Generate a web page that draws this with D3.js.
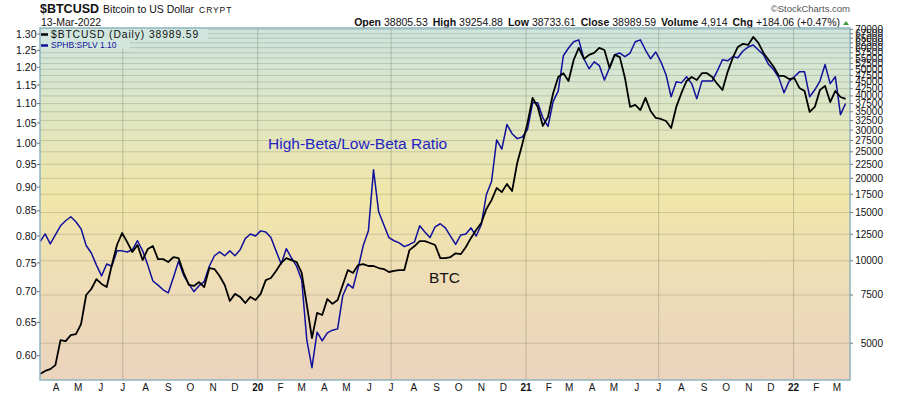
<!DOCTYPE html>
<html>
<head>
<meta charset="utf-8">
<script src="https://cdn.jsdelivr.net/npm/d3@7/dist/d3.min.js"></script>
<style>
  body { margin: 0; background: #fff; }
  text { font-family: "Liberation Sans", Arial, sans-serif; fill: #111; }
</style>
</head>
<body>
<div id="chart"></div>
<script>
// weekly readings, first one on 10-Mar-2019, last one on 13-Mar-2022
var startDate = new Date(2019, 2, 10);

var btcValues = [
  3860, 3960, 4020, 4160, 5130, 5090, 5350, 5400, 5870, 7500,
  7890, 8570, 8230, 8020, 9650, 11420, 12630, 11700, 10760, 11420,
  10060, 11040, 11320, 10140, 10140, 9900, 10320, 10230, 9030, 8160,
  8090, 8360, 8020, 9410, 9330, 8800, 8160, 7130, 7570, 7380,
  7010, 7380, 7190, 7570, 8500, 8650, 9180, 9820, 10230, 10060,
  9900, 9030, 6900, 5220, 6450, 6340, 7250, 6960, 7190, 8160,
  9250, 9030, 9650, 9730, 9570, 9570, 9410, 9330, 9100, 9180,
  9250, 9250, 10940, 11320, 11800, 11800, 11610, 11420, 10230, 10230,
  10320, 10650, 10570, 11230, 12120, 12950, 13740, 15450, 16660, 18440,
  17810, 19070, 17970, 22760, 26710, 31810, 39320, 36460, 31080, 33520,
  40920, 46900, 48420, 45350, 54090, 59870, 54560, 56460, 57420, 59870,
  58840, 50600, 56460, 55420, 46520, 36460, 37080, 35520, 39320, 35230,
  33230, 32950, 32400, 30550, 36460, 40920, 45350, 46900, 45720, 48420,
  48420, 46900, 44240, 42030, 48860, 55040, 60390, 61940, 61420, 65680,
  62450, 57420, 54090, 51040, 47320, 47320, 46090, 46460, 42770, 41690,
  34950, 36460, 42030, 43510, 37990, 41690, 39640, 38989.59
];

// SPHB:SPLV ratio
var ratioValues = [
  0.789, 0.804, 0.785, 0.802, 0.820, 0.830, 0.838, 0.828, 0.814, 0.782,
  0.768, 0.746, 0.727, 0.748, 0.744, 0.772, 0.772, 0.770, 0.774, 0.791,
  0.772, 0.746, 0.718, 0.711, 0.703, 0.698, 0.724, 0.753, 0.728, 0.713,
  0.700, 0.710, 0.717, 0.744, 0.763, 0.770, 0.763, 0.772, 0.763, 0.774,
  0.795, 0.804, 0.800, 0.810, 0.808, 0.797, 0.772, 0.748, 0.776, 0.759,
  0.744, 0.720, 0.623, 0.583, 0.635, 0.622, 0.634, 0.638, 0.640, 0.693,
  0.713, 0.706, 0.741, 0.782, 0.810, 0.938, 0.848, 0.822, 0.797, 0.791,
  0.787, 0.780, 0.784, 0.789, 0.820, 0.808, 0.797, 0.818, 0.824, 0.816,
  0.800, 0.784, 0.802, 0.804, 0.816, 0.800, 0.822, 0.884, 0.912, 1.008,
  0.986, 1.046, 1.023, 1.011, 1.015, 1.033, 1.102, 1.102, 1.063, 1.041,
  1.105, 1.134, 1.234, 1.257, 1.276, 1.282, 1.225, 1.196, 1.216, 1.205,
  1.164, 1.199, 1.237, 1.242, 1.231, 1.242, 1.276, 1.282, 1.251, 1.225,
  1.245, 1.216, 1.179, 1.118, 1.159, 1.156, 1.173, 1.154, 1.113, 1.161,
  1.161, 1.161, 1.190, 1.222, 1.219, 1.231, 1.228, 1.248, 1.260, 1.266,
  1.251, 1.237, 1.208, 1.193, 1.170, 1.129, 1.161, 1.173, 1.187, 1.187,
  1.118, 1.137, 1.161, 1.208, 1.154, 1.173, 1.071, 1.100
];

var leftTicks = [0.60, 0.65, 0.70, 0.75, 0.80, 0.85, 0.90, 0.95, 1.00, 1.05, 1.10, 1.15, 1.20, 1.25, 1.30];
var rightTicks = [5000, 7500, 10000, 12500, 15000, 17500, 20000, 22500, 25000, 27500, 30000,
  32500, 35000, 37500, 40000, 42500, 45000, 47500, 50000, 52500, 55000, 57500, 60000,
  62500, 65000, 67500, 70000];
var monthLetters = ["J", "F", "M", "A", "M", "J", "J", "A", "S", "O", "N", "D"];

var quoteLabels = ["Open", "High", "Low", "Close", "Volume", "Chg"];
var quoteValues = ["38805.53", "39254.88", "38733.61", "38989.59", "4,914", "+184.06 (+0.47%)"];

var btcColor = "#000000",
    ratioColor = "#10109c";

// build rows
var btcData = btcValues.map(function(v, i) { return {date: d3.timeDay.offset(startDate, i * 7), value: v}; });
var ratioData = ratioValues.map(function(v, i) { return {date: d3.timeDay.offset(startDate, i * 7), value: v}; });

var margin = {top: 28, right: 50, bottom: 16, left: 40},
    width = 900 - margin.left - margin.right,
    height = 396 - margin.top - margin.bottom;

var svgRoot = d3.select("#chart")
  .append("svg")
    .attr("width", 900)
    .attr("height", 396);

svgRoot.append("rect").attr("width", 900).attr("height", 396).attr("fill", "#fff");

var defs = svgRoot.append("defs");
var grad = defs.append("linearGradient")
    .attr("id", "bg").attr("x1", 0).attr("y1", 0).attr("x2", 0).attr("y2", 1);
grad.append("stop").attr("offset", "0%").attr("stop-color", "#cde5df");
grad.append("stop").attr("offset", "22%").attr("stop-color", "#dde6c6");
grad.append("stop").attr("offset", "48%").attr("stop-color", "#f1e6a9");
grad.append("stop").attr("offset", "75%").attr("stop-color", "#eedcb8");
grad.append("stop").attr("offset", "100%").attr("stop-color", "#ebd3bd");

defs.append("clipPath").attr("id", "plotClip")
  .append("rect").attr("width", width).attr("height", height);

// header
var title = svgRoot.append("text").attr("x", 40).attr("y", 12.5);
title.append("tspan").attr("font-weight", "bold").attr("font-size", "12.5px").text("$BTCUSD");
title.append("tspan").attr("font-size", "10.5px").attr("dx", 4).text("Bitcoin to US Dollar");
title.append("tspan").attr("font-size", "8.5px").attr("dx", 5).attr("letter-spacing", "0.9px").text("CRYPT");

svgRoot.append("text").attr("x", 41).attr("y", 25.5).attr("font-size", "10.5px").text("13-Mar-2022");

svgRoot.append("text")
    .attr("x", 850).attr("y", 12)
    .attr("text-anchor", "end")
    .attr("font-size", "9.5px")
    .style("fill", "#555")
    .text("\u00a9StockCharts.com");

var quote = svgRoot.append("text")
    .attr("x", 840).attr("y", 25.5)
    .attr("text-anchor", "end")
    .attr("font-size", "10.5px");
quoteLabels.forEach(function(lab, i) {
  quote.append("tspan").attr("font-weight", "bold").attr("dx", i == 0 ? 0 : 5).text(lab);
  quote.append("tspan").attr("dx", 3).text(quoteValues[i]);
});
svgRoot.append("path")
    .attr("d", "M843,25L849,25L846,21Z")
    .attr("fill", "#3c9c3c");

var svg = svgRoot.append("g")
    .attr("transform", "translate(" + margin.left + "," + margin.top + ")");

// scales
var x = d3.scaleTime()
  .domain([new Date(2019, 2, 10), new Date(2022, 2, 19)])
  .range([0, width]);

var yLeft = d3.scaleLog()
  .domain([0.566, 1.319])
  .range([height, 0]);

var yRight = d3.scaleLog()
  .domain([3670, 70800])
  .range([height, 0]);

// plot background
svg.append("rect")
    .attr("width", width).attr("height", height)
    .attr("fill", "url(#bg)");

// grid
svg.append("g").selectAll("line")
  .data(rightTicks)
  .enter().append("line")
    .attr("x1", 0).attr("x2", width)
    .attr("y1", function(d) { return yRight(d); })
    .attr("y2", function(d) { return yRight(d); })
    .attr("stroke", "rgba(110,115,90,0.28)")
    .attr("stroke-width", 1);

var halfYears = d3.timeMonth.range(new Date(2019, 2, 10), new Date(2022, 2, 19))
  .filter(function(d) { return d.getMonth() == 0 || d.getMonth() == 6; });

svg.append("g").selectAll("line")
  .data(halfYears)
  .enter().append("line")
    .attr("x1", function(d) { return x(d); })
    .attr("x2", function(d) { return x(d); })
    .attr("y1", 0).attr("y2", height)
    .attr("stroke", "rgba(110,115,90,0.35)")
    .attr("stroke-width", 1);

// annotations
svg.append("text")
    .attr("x", 228).attr("y", 121)
    .attr("font-size", "15.5px")
    .style("fill", "#2424c4")
    .text("High-Beta/Low-Beta Ratio");

svg.append("text")
    .attr("x", 389).attr("y", 255)
    .attr("font-size", "15.5px")
    .style("fill", "#111")
    .text("BTC");

// lines
var plot = svg.append("g").attr("clip-path", "url(#plotClip)");

var ratioLine = d3.line()
  .x(function(d) { return x(d.date); })
  .y(function(d) { return yLeft(d.value); });

var btcLine = d3.line()
  .x(function(d) { return x(d.date); })
  .y(function(d) { return yRight(d.value); });

plot.append("path")
    .datum(ratioData)
    .attr("fill", "none")
    .attr("stroke", ratioColor)
    .attr("stroke-width", 1.5)
    .attr("stroke-linejoin", "round")
    .attr("d", ratioLine);

plot.append("path")
    .datum(btcData)
    .attr("fill", "none")
    .attr("stroke", btcColor)
    .attr("stroke-width", 1.8)
    .attr("stroke-linejoin", "round")
    .attr("d", btcLine);

// legend
var legend = svg.append("g");
legend.append("rect").attr("x", 0).attr("y", 1).attr("width", 168).attr("height", 11).attr("fill", "#d0e6de");
legend.append("rect").attr("x", 0).attr("y", 12).attr("width", 90).attr("height", 9).attr("fill", "#d1e6dd");
legend.append("line").attr("x1", 1).attr("x2", 8).attr("y1", 6.5).attr("y2", 6.5)
    .attr("stroke", btcColor).attr("stroke-width", 2.5);
legend.append("line").attr("x1", 1).attr("x2", 8).attr("y1", 17.5).attr("y2", 17.5)
    .attr("stroke", ratioColor).attr("stroke-width", 2.5);
legend.append("text")
    .attr("x", 11).attr("y", 9.8)
    .attr("font-family", "'DejaVu Sans', Verdana, sans-serif")
    .attr("font-size", "10.3px")
    .attr("letter-spacing", "0.9px")
    .text("$BTCUSD (Daily) " + d3.format(".2f")(btcValues[btcValues.length - 1]));
legend.append("text")
    .attr("x", 11).attr("y", 20)
    .attr("font-family", "'DejaVu Sans', Verdana, sans-serif")
    .attr("font-size", "8.5px")
    .style("fill", ratioColor)
    .text("SPHB:SPLV " + d3.format(".2f")(ratioValues[ratioValues.length - 1]));

// border
svg.append("rect")
    .attr("width", width).attr("height", height)
    .attr("fill", "none")
    .attr("stroke", "#8fb5c0")
    .attr("stroke-width", 1.5);

// left axis
var leftAxis = svg.append("g");
leftAxis.selectAll("line")
  .data(leftTicks)
  .enter().append("line")
    .attr("x1", -3).attr("x2", 0)
    .attr("y1", function(d) { return yLeft(d); })
    .attr("y2", function(d) { return yLeft(d); })
    .attr("stroke", "#777");
leftAxis.selectAll("text")
  .data(leftTicks)
  .enter().append("text")
    .attr("x", -3.5)
    .attr("y", function(d) { return yLeft(d); })
    .attr("dy", "0.35em")
    .attr("text-anchor", "end")
    .attr("font-size", "10.5px")
    .text(function(d) { return d3.format(".2f")(d); });

// right axis (labels crowd together at the top, as in the original)
var rightAxis = svg.append("g").attr("transform", "translate(" + width + ",0)");
rightAxis.selectAll("line")
  .data(rightTicks)
  .enter().append("line")
    .attr("x1", 0).attr("x2", 3)
    .attr("y1", function(d) { return yRight(d); })
    .attr("y2", function(d) { return yRight(d); })
    .attr("stroke", "#777");
rightAxis.selectAll("text")
  .data(rightTicks)
  .enter().append("text")
    .attr("x", 33)
    .attr("y", function(d) { return yRight(d); })
    .attr("dy", "0.35em")
    .attr("text-anchor", "end")
    .attr("font-size", "10px")
    .text(function(d) { return d; });

// bottom axis: month letters, year numbers in bold
var months = d3.timeMonth.range(new Date(2019, 3, 1), new Date(2022, 3, 1));
svg.append("g").selectAll("text")
  .data(months)
  .enter().append("text")
    .attr("x", function(d) { return x(d); })
    .attr("y", height + 11)
    .attr("text-anchor", "middle")
    .attr("font-size", "10px")
    .attr("font-weight", function(d) { return d.getMonth() == 0 ? "bold" : "normal"; })
    .text(function(d) {
      return d.getMonth() == 0 ? d3.timeFormat("%y")(d) : monthLetters[d.getMonth()];
    });
</script>
</body>
</html>
